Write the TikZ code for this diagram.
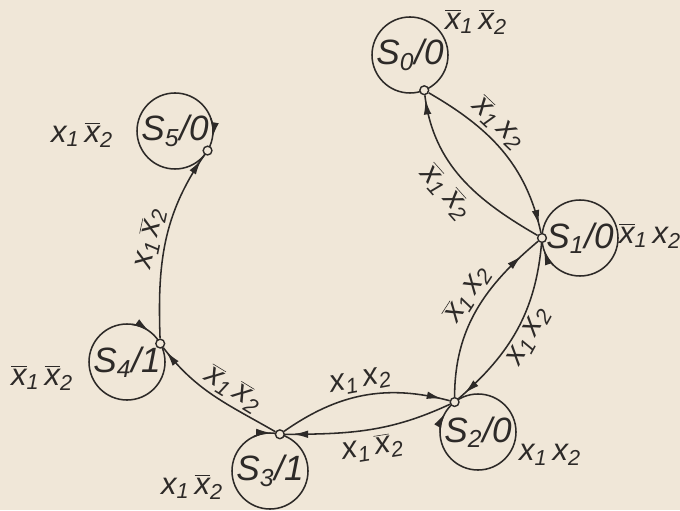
\documentclass[tikz,border=0pt]{standalone}
\usepackage{fontspec}
\setmainfont{Liberation Sans}
\usepackage{tikz}
\usetikzlibrary{arrows.meta, decorations.markings}
\definecolor{paper}{RGB}{240,231,216}
\definecolor{ink}{RGB}{45,42,40}
\newcommand{\px}[1]{x\textsubscript{#1}}
\newcommand{\nx}[1]{$\overline{\mbox{x}}$\textsubscript{#1}}

\begin{document}
\begin{tikzpicture}[
		state/.style={circle, draw=ink, text=ink, line width=1.1pt, minimum size=1.9cm, inner sep=0pt, outer sep=0pt, font=\fontsize{25}{27}\selectfont\itshape},
		port/.style={circle, draw=ink, fill=paper, line width=1pt, minimum size=0.22cm, inner sep=0pt},
		edge/.style={draw=ink, line width=1.1pt},
		arrowat/.style={postaction={decorate}, decoration={markings, mark=at position #1 with {\arrow{Latex[length=3.8mm, width=1.9mm]}}}},
		arrowat/.default=-0.2cm,
		loopdir/.style={draw=ink, line width=1.1pt, -{Latex[length=3.8mm, width=1.9mm]}},
		lbl/.style={font=\fontsize{22}{24}\selectfont\itshape, text=ink, inner sep=2pt},
	]
		\useasboundingbox[fill=paper] (0,0) rectangle (17,12.75);
		\node[state] (s0) at (10.25,11.375) {S\textsubscript{0}/0};
		\node[state] (s1) at (14.5,6.8) {S\textsubscript{1}/0};
		\node[state] (s2) at (11.95,1.95) {S\textsubscript{2}/0};
		\node[state] (s3) at (6.75,0.975) {S\textsubscript{3}/1};
		\node[state] (s4) at (3.175,3.7) {S\textsubscript{4}/1};
		\node[state] (s5) at (4.375,9.475) {S\textsubscript{5}/0};
		\draw[loopdir] (s1.-135) arc[start angle=-135, end angle=-162, radius=0.95cm];
		\draw[loopdir] (s2.178) arc[start angle=178, end angle=150, radius=0.95cm];
		\draw[loopdir] (s3.115) arc[start angle=115, end angle=88, radius=0.95cm];
		\draw[loopdir] (s4.82) arc[start angle=82, end angle=54, radius=0.95cm];
		\draw[loopdir] (s5.20) arc[start angle=20, end angle=-10, radius=0.95cm];
		\node[port] (p0) at (s0.-68) {};
		\node[port] (p1) at (s1.180) {};
		\node[port] (p2) at (s2.128) {};
		\node[port] (p3) at (s3.75) {};
		\node[port] (p4) at (s4.29) {};
		\node[port] (p5) at (s5.-31) {};
		\draw[edge, arrowat] (p0) to[out=-30, in=102] node[lbl, sloped, above, pos=0.38] {\nx1\,\px2} (p1);
		\draw[edge, arrowat=-0.1cm] (p1) to[out=150, in=-83] node[lbl, sloped, below=4pt, pos=0.5] {\nx1\,\nx2} (p0);
		\draw[edge, arrowat=-0.55cm] (p2) to[out=90, in=-140] node[lbl, sloped, above, pos=0.55] {\nx1\,\px2} (p1);
		\draw[edge, arrowat] (p1) to[out=-95, in=41] node[lbl, sloped, below, pos=0.5] {\px1\,\px2} (p2);
		\draw[edge, arrowat] (p3) to[out=35, in=165] node[lbl, sloped, above, pos=0.5] {\px1\,\px2} (p2);
		\draw[edge, arrowat] (p2) to[out=205, in=0] node[lbl, sloped, below=2pt, pos=0.5] {\px1\,\nx2} (p3);
		\draw[edge, arrowat=-0.12cm] (p3) to[out=150, in=-53] node[lbl, sloped, above, pos=0.4] {\nx1\,\nx2} (p4);
		\draw[edge, arrowat=-0.15cm] (p4) to[out=92, in=-125] node[lbl, sloped, above, pos=0.5] {\px1\,\nx2} (p5);
		\node[lbl] (l0) at (11.9,12.2) {\nx1\,\nx2};
		\node[lbl] (l1) at (16.25,6.85) {\nx1\,\px2};
		\node[lbl] (l2) at (13.75,1.375) {\px1\,\px2};
		\node[lbl] (l3) at (4.8,0.575) {\px1\,\nx2};
		\node[lbl] (l4) at (1.05,3.3) {\nx1\,\nx2};
		\node[lbl] (l5) at (2.05,9.375) {\px1\,\nx2};
	\end{tikzpicture}
\end{document}
